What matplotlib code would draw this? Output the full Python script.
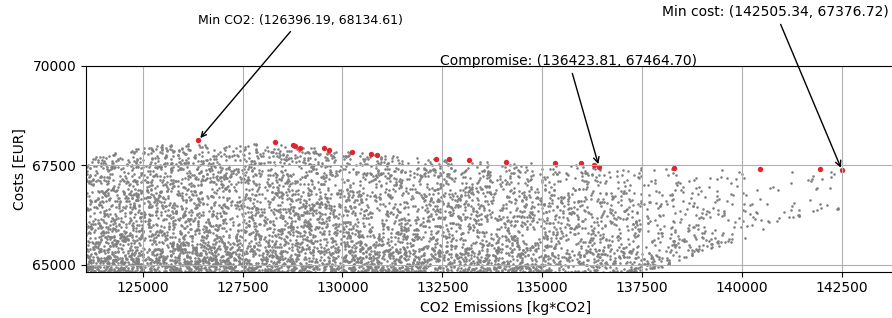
import numpy as np
import matplotlib
matplotlib.use("Agg")
from matplotlib import pyplot as plt

# nube de soluciones: franjas de CO2 con cantidad de puntos y rango de costos
binInicio = [123500, 124500, 125500, 126500, 127500, 128500, 129500, 130500, 131500, 132500,
             133500, 134500, 135500, 136500, 137500, 138500, 139500, 140500, 141500]
binFin = [124500, 125500, 126500, 127500, 128500, 129500, 130500, 131500, 132500, 133500,
          134500, 135500, 136500, 137500, 138500, 139500, 140500, 141500, 142500]
binCantidad = [600, 600, 600, 560, 540, 510, 490, 460, 430, 400,
               380, 340, 290, 220, 140, 100, 45, 22, 20]
binCostoMin = [64750, 64750, 64750, 64750, 64750, 64750, 64750, 64750, 64750, 64750,
               64750, 64750, 64750, 64800, 64950, 65350, 65650, 66100, 66400]
binCostoMax = [67750, 67980, 68060, 68020, 68060, 68000, 67860, 67760, 67680, 67620,
               67580, 67560, 67520, 67470, 67450, 67430, 67420, 67400, 67380]

# frente de pareto (puntos rojos)
paretoCO2 = [126396.19, 128322, 128757, 128808, 128940, 129549, 129659, 130250, 130711, 130877,
             132340, 132673, 133157, 134093, 135328, 135972, 136288, 136423.81, 138310, 140456,
             141960, 142505.34]
paretoCosto = [68134.61, 68077, 68010, 68000, 67944, 67926, 67876, 67843, 67783, 67751,
               67668, 67658, 67625, 67583, 67568, 67550, 67518, 67464.70, 67442, 67417,
               67408, 67376.72]

minCO2 = (126396.19, 68134.61)
compromiso = (136423.81, 67464.70)
minCosto = (142505.34, 67376.72)

centros = [(a + b) / 2 for a, b in zip(binInicio, binFin)]

rng = np.random.default_rng(7)
nubeX = []
nubeY = []
for a, b, n in zip(binInicio, binFin, binCantidad):
    xs = rng.uniform(a, b, n)
    lo = np.interp(xs, centros, binCostoMin)
    hi = np.interp(xs, centros, binCostoMax)
    nubeX.append(xs)
    nubeY.append(lo + (hi - lo) * rng.random(n) ** 1.7)
nubeX = np.concatenate(nubeX)
nubeY = np.concatenate(nubeY)

fig = plt.figure(figsize=(8.92, 3.18), dpi=100)
ax = fig.add_axes([0.0964, 0.1456, 0.94, 0.647])

ax.scatter(nubeX, nubeY, s=3.5, c="gray", linewidths=0)
ax.scatter(paretoCO2, paretoCosto, s=15, c="#e0262c", linewidths=0)

ax.set_xlim(123580, 144570)
ax.set_ylim(64830, 70000)
ax.set_xticks([125000, 127500, 130000, 132500, 135000, 137500, 140000, 142500])
ax.set_yticks([65000, 67500, 70000])
ax.grid(True)
ax.spines["right"].set_visible(False)

ax.set_xlabel("CO2 Emissions [kg*CO2]")
ax.set_ylabel("Costs [EUR]")

flecha = dict(arrowstyle="->", color="black", lw=1)
ax.annotate(f"Min CO2: ({minCO2[0]:.2f}, {minCO2[1]:.2f})", xy=minCO2,
            xytext=(128940, 71150), ha="center", va="center", fontsize=9,
            arrowprops=flecha, annotation_clip=False)
ax.annotate(f"Compromise: ({compromiso[0]:.2f}, {compromiso[1]:.2f})", xy=compromiso,
            xytext=(135666, 70125), ha="center", va="center", fontsize=10,
            arrowprops=flecha, annotation_clip=False)
ax.annotate(f"Min cost: ({minCosto[0]:.2f}, {minCosto[1]:.2f})", xy=minCosto,
            xytext=(140840, 71355), ha="center", va="center", fontsize=10,
            arrowprops=flecha, annotation_clip=False)

fig.savefig("out.png", dpi=100)
